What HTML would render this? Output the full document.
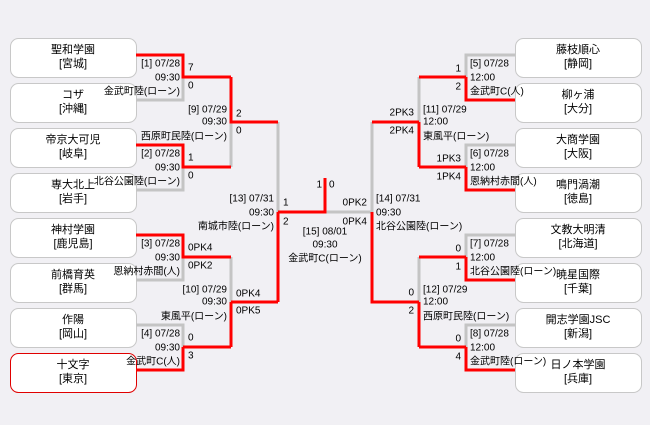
<!DOCTYPE html>
<html><head><meta charset="utf-8"><style>
html,body{margin:0;padding:0;background:#f1f0f4;}
svg{display:block;font-family:"Liberation Sans","Noto Sans CJK JP",sans-serif;}
text{font-size:10px;fill:#000;dominant-baseline:central;}
.b{font-size:11px;}
</style></head><body>
<svg width="650" height="425" viewBox="0 0 650 425" xmlns="http://www.w3.org/2000/svg">
<rect width="650" height="425" fill="#f1f0f4"/>
<g fill="#fff" stroke="#c8c8c8" stroke-width="1">
<rect x="10.5" y="38.5" width="126" height="39" rx="8"/>
<rect x="10.5" y="83.5" width="126" height="39" rx="8"/>
<rect x="10.5" y="128.5" width="126" height="39" rx="8"/>
<rect x="10.5" y="173.5" width="126" height="39" rx="8"/>
<rect x="10.5" y="218.5" width="126" height="39" rx="8"/>
<rect x="10.5" y="263.5" width="126" height="39" rx="8"/>
<rect x="10.5" y="308.5" width="126" height="39" rx="8"/>
<rect x="10.5" y="353.5" width="126" height="39" rx="8" stroke="#e00000"/>
<rect x="515.5" y="38.5" width="126" height="39" rx="8"/>
<rect x="515.5" y="83.5" width="126" height="39" rx="8"/>
<rect x="515.5" y="128.5" width="126" height="39" rx="8"/>
<rect x="515.5" y="173.5" width="126" height="39" rx="8"/>
<rect x="515.5" y="218.5" width="126" height="39" rx="8"/>
<rect x="515.5" y="263.5" width="126" height="39" rx="8"/>
<rect x="515.5" y="308.5" width="126" height="39" rx="8"/>
<rect x="515.5" y="353.5" width="126" height="39" rx="8"/>
</g>
<g text-anchor="middle" class="b">
<text class="b" x="73" y="50">聖和学園</text><text class="b" x="73" y="64">[宮城]</text>
<text class="b" x="73" y="95">コザ</text><text class="b" x="73" y="109">[沖縄]</text>
<text class="b" x="73" y="140">帝京大可児</text><text class="b" x="73" y="154">[岐阜]</text>
<text class="b" x="73" y="185">専大北上</text><text class="b" x="73" y="199">[岩手]</text>
<text class="b" x="73" y="230">神村学園</text><text class="b" x="73" y="244">[鹿児島]</text>
<text class="b" x="73" y="275">前橋育英</text><text class="b" x="73" y="289">[群馬]</text>
<text class="b" x="73" y="320">作陽</text><text class="b" x="73" y="334">[岡山]</text>
<text class="b" x="73" y="365">十文字</text><text class="b" x="73" y="379">[東京]</text>
<text class="b" x="578" y="50">藤枝順心</text><text class="b" x="578" y="64">[静岡]</text>
<text class="b" x="578" y="95">柳ヶ浦</text><text class="b" x="578" y="109">[大分]</text>
<text class="b" x="578" y="140">大商学園</text><text class="b" x="578" y="154">[大阪]</text>
<text class="b" x="578" y="185">鳴門渦潮</text><text class="b" x="578" y="199">[徳島]</text>
<text class="b" x="578" y="230">文教大明清</text><text class="b" x="578" y="244">[北海道]</text>
<text class="b" x="578" y="275">暁星国際</text><text class="b" x="578" y="289">[千葉]</text>
<text class="b" x="578" y="320">開志学園JSC</text><text class="b" x="578" y="334">[新潟]</text>
<text class="b" x="578" y="365">日ノ本学園</text><text class="b" x="578" y="379">[兵庫]</text>
</g>
<g fill="none" stroke="#c4c4c4" stroke-width="3">
<path d="M183,77V100H136"/><path d="M183,167V190H136"/><path d="M183,257V280H136"/><path d="M136,325H183V347"/>
<path d="M231,122V167"/><path d="M231,257V302"/><path d="M278,122V212"/><path d="M325,212H372"/>
<path d="M372,122V212"/><path d="M419,77V122"/><path d="M419,257V302"/>
<path d="M515,55H466V77"/><path d="M515,145H466V167"/><path d="M515,235H466V257"/><path d="M515,325H466V347"/>
</g>
<g fill="none" stroke="#f00" stroke-width="3">
<path d="M136,55H183V77H231"/><path d="M136,145H183V167H231"/><path d="M136,235H183V257H231"/>
<path d="M183,347V370H136"/><path d="M183,347H231"/>
<path d="M231,77V122H278"/><path d="M231,302V347"/><path d="M231,302H278"/>
<path d="M278,212V302"/><path d="M278,212H325V178"/>
<path d="M372,122H419"/><path d="M372,212V302H419"/>
<path d="M419,122V167"/><path d="M419,302V347"/>
<path d="M466,77V100H515"/><path d="M466,77H419"/>
<path d="M466,167V190H515"/><path d="M466,167H419"/>
<path d="M466,257V280H515"/><path d="M466,257H419"/>
<path d="M466,347V370H515"/><path d="M466,347H419"/>
</g>
<g text-anchor="end">
<text x="180" y="64">[1] 07/28</text><text x="180" y="78">09:30</text><text x="180" y="92">金武町陸(ローン)</text>
<text x="180" y="154">[2] 07/28</text><text x="180" y="168">09:30</text><text x="180" y="182">北谷公園陸(ローン)</text>
<text x="180" y="244">[3] 07/28</text><text x="180" y="258">09:30</text><text x="180" y="272">恩納村赤間(人)</text>
<text x="180" y="334">[4] 07/28</text><text x="180" y="348">09:30</text><text x="180" y="362">金武町C(人)</text>
<text x="227" y="110">[9] 07/29</text><text x="227" y="122">09:30</text><text x="227" y="137">西原町民陸(ローン)</text>
<text x="227" y="290">[10] 07/29</text><text x="227" y="302">09:30</text><text x="227" y="317">東風平(ローン)</text>
<text x="274" y="199">[13] 07/31</text><text x="274" y="213">09:30</text><text x="274" y="227">南城市陸(ローン)</text>
<text x="322" y="185">1</text>
<text x="367" y="203">0PK2</text><text x="367" y="222">0PK4</text>
<text x="414" y="113">2PK3</text><text x="414" y="131">2PK4</text>
<text x="414" y="293">0</text><text x="414" y="311">2</text>
<text x="461" y="69">1</text><text x="461" y="87">2</text>
<text x="461" y="159">1PK3</text><text x="461" y="177">1PK4</text>
<text x="461" y="249">0</text><text x="461" y="267">1</text>
<text x="461" y="339">0</text><text x="461" y="357">4</text>
</g>
<g>
<text x="188" y="68">7</text><text x="188" y="86">0</text>
<text x="188" y="158">1</text><text x="188" y="176">0</text>
<text x="188" y="248">0PK4</text><text x="188" y="266">0PK2</text>
<text x="188" y="338">0</text><text x="188" y="356">3</text>
<text x="236" y="114">2</text><text x="236" y="131">0</text>
<text x="236" y="294">0PK4</text><text x="236" y="311">0PK5</text>
<text x="283" y="203">1</text><text x="283" y="222">2</text>
<text x="329" y="185">0</text>
<text x="376" y="199">[14] 07/31</text><text x="376" y="213">09:30</text><text x="376" y="227">北谷公園陸(ローン)</text>
<text x="423" y="110">[11] 07/29</text><text x="423" y="122">12:00</text><text x="423" y="137">東風平(ローン)</text>
<text x="423" y="290">[12] 07/29</text><text x="423" y="302">12:00</text><text x="423" y="317">西原町民陸(ローン)</text>
<text x="470" y="64">[5] 07/28</text><text x="470" y="78">12:00</text><text x="470" y="92">金武町C(人)</text>
<text x="470" y="154">[6] 07/28</text><text x="470" y="168">12:00</text><text x="470" y="182">恩納村赤間(人)</text>
<text x="470" y="244">[7] 07/28</text><text x="470" y="258">12:00</text><text x="470" y="272">北谷公園陸(ローン)</text>
<text x="470" y="334">[8] 07/28</text><text x="470" y="348">12:00</text><text x="470" y="362">金武町陸(ローン)</text>
</g>
<g text-anchor="middle">
<text x="325" y="232">[15] 08/01</text><text x="325" y="245">09:30</text><text x="325" y="259">金武町C(ローン)</text>
</g>
</svg>
</body></html>
